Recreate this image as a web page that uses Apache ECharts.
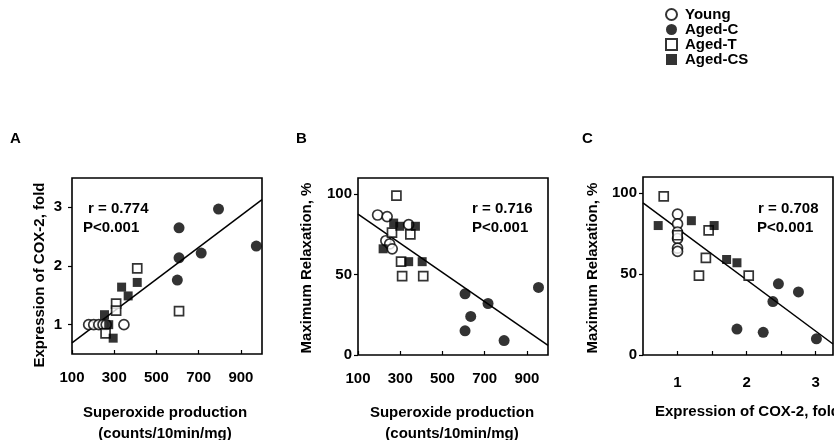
<!DOCTYPE html>
<html>
<head>
<meta charset="utf-8">
<script src="https://cdn.jsdelivr.net/npm/echarts@6/dist/echarts.min.js"></script>
<style>
  html, body { margin: 0; padding: 0; background: #fff; }
  #main { width: 834px; height: 440px; }
</style>
</head>
<body>
<div id="main"></div>
<script>
// group names
var groups = ['Young', 'Aged-C', 'Aged-T', 'Aged-CS'];

// A: superoxide vs COX-2 expression
var youngA = [[179, 1.0], [203, 1.0], [227, 1.0], [247, 1.0], [262, 1.0], [346, 1.0]];
var agedCA = [[607, 2.65], [607, 2.14], [599, 1.76], [712, 2.22], [794, 2.97], [973, 2.34]];
var agedTA = [[259, 0.85], [309, 1.36], [309, 1.24], [409, 1.96], [607, 1.23]];
var agedCSA = [[274, 1.0], [295, 0.77], [254, 1.17], [335, 1.64], [366, 1.49], [409, 1.72]];
var fitA = [[100, 0.69], [1000, 3.13]];

// B: superoxide vs maximum relaxation
var youngB = [[193, 87], [238, 86], [340, 81], [232, 71], [250, 69], [262, 66]];
var agedCB = [[607, 38], [634, 24], [607, 15], [716, 32], [792, 9], [955, 42]];
var agedTB = [[282, 99], [348, 75], [261, 76], [304, 58], [309, 49], [409, 49]];
var agedCSB = [[269, 82], [298, 80], [372, 80], [219, 66], [340, 58], [404, 58]];
var fitB = [[100, 87.5], [1000, 6]];

// C: COX-2 expression vs maximum relaxation
var youngC = [[1, 87], [1, 81], [1, 76], [1, 72], [1, 66], [1, 64]];
var agedCC = [[1.86, 16], [2.24, 14], [2.38, 33], [2.46, 44], [2.75, 39], [3.01, 10]];
var agedTC = [[0.80, 98], [1.45, 77], [1.41, 60], [1.31, 49], [2.03, 49], [1.0, 74]];
var agedCSC = [[0.72, 80], [1.20, 83], [1.53, 80], [1.71, 59], [1.86, 57]];
var fitC = [[0.5, 94], [3.25, 6.8]];

// ticks
var superTicks = [100, 300, 500, 700, 900];
var coxTicksA = [1, 2, 3];
var relaxTicks = [0, 50, 100];
var coxTicksC = [1, 1.5, 2, 2.5, 3];
var coxLabelsC = [1, 2, 3];

var stats = [['r = 0.774', 'P<0.001'], ['r = 0.716', 'P<0.001'], ['r = 0.708', 'P<0.001']];

var FONT = "'Liberation Sans', Arial, sans-serif";

var styles = {
    'Young':   {symbol: 'circle', symbolSize: 10, itemStyle: {color: '#fff', borderColor: '#000', borderWidth: 1.7}},
    'Aged-C':  {symbol: 'circle', symbolSize: 11, itemStyle: {color: '#000', borderColor: '#000', borderWidth: 0}},
    'Aged-T':  {symbol: 'rect',   symbolSize: 9,  itemStyle: {color: '#fff', borderColor: '#000', borderWidth: 1.7}},
    'Aged-CS': {symbol: 'rect',   symbolSize: 9,  itemStyle: {color: '#000', borderColor: '#000', borderWidth: 0}}
};

function scatter(name, data, idx) {
    var s = styles[name];
    return {
        name: name, type: 'scatter', data: data,
        xAxisIndex: idx, yAxisIndex: idx,
        symbol: s.symbol, symbolSize: s.symbolSize, itemStyle: s.itemStyle,
        z: 3
    };
}

function fitLine(data, idx) {
    return {
        type: 'line', data: data, xAxisIndex: idx, yAxisIndex: idx,
        showSymbol: false, symbol: 'none', silent: true,
        lineStyle: {color: '#000', width: 1.5}, z: 2
    };
}

var tickLabel = {color: '#000', fontFamily: FONT, fontWeight: 'bold', fontSize: 15};

function xAxis(idx, min, max, ticks, labels, margin) {
    return {
        type: 'value', gridIndex: idx, min: min, max: max,
        splitLine: {show: false}, axisLine: {show: false},
        axisTick: {show: true, inside: true, length: 4, customValues: ticks, lineStyle: {color: '#000', width: 1.2}},
        axisLabel: Object.assign({customValues: labels, margin: margin}, tickLabel)
    };
}
function yAxis(idx, min, max, ticks, margin) {
    return {
        type: 'value', gridIndex: idx, min: min, max: max,
        splitLine: {show: false}, axisLine: {show: false},
        axisTick: {show: true, inside: false, length: 4, customValues: ticks, lineStyle: {color: '#000', width: 1.2}},
        axisLabel: Object.assign({customValues: ticks, margin: margin}, tickLabel)
    };
}

var gridBase = {show: true, borderColor: '#000', borderWidth: 1.6, backgroundColor: 'transparent'};

function txt(x, y, text, opts) {
    var st = Object.assign({text: text, fill: '#000', font: 'bold 15px ' + FONT}, opts && opts.style);
    var el = {type: 'text', x: x, y: y, style: st, z: 10};
    if (opts && opts.rotation) el.rotation = opts.rotation;
    return el;
}

var option = {
    animation: false,
    backgroundColor: '#fff',
    legend: {
        orient: 'vertical', left: 660, top: 2,
        itemWidth: 11, itemHeight: 11, itemGap: 0,
        data: groups,
        textStyle: {color: '#000', fontFamily: FONT, fontWeight: 'bold', fontSize: 15, lineHeight: 13, padding: [0, 0, 0, 3]}
    },
    grid: [
        Object.assign({left: 72, top: 178, width: 190, height: 176}, gridBase),
        Object.assign({left: 358, top: 178, width: 190, height: 177}, gridBase),
        Object.assign({left: 643, top: 177, width: 190, height: 178}, gridBase)
    ],
    xAxis: [
        xAxis(0, 100, 1000, superTicks, superTicks, 16),
        xAxis(1, 100, 1000, superTicks, superTicks, 16),
        xAxis(2, 0.5, 3.25, coxTicksC, coxLabelsC, 20)
    ],
    yAxis: [
        yAxis(0, 0.5, 3.5, coxTicksA, 10),
        yAxis(1, 0, 110, relaxTicks, 6),
        yAxis(2, 0, 110, relaxTicks, 6)
    ],
    series: [
        fitLine(fitA, 0),
        scatter('Young', youngA, 0), scatter('Aged-C', agedCA, 0),
        scatter('Aged-T', agedTA, 0), scatter('Aged-CS', agedCSA, 0),
        fitLine(fitB, 1),
        scatter('Young', youngB, 1), scatter('Aged-C', agedCB, 1),
        scatter('Aged-T', agedTB, 1), scatter('Aged-CS', agedCSB, 1),
        fitLine(fitC, 2),
        scatter('Young', youngC, 2), scatter('Aged-C', agedCC, 2),
        scatter('Aged-T', agedTC, 2), scatter('Aged-CS', agedCSC, 2)
    ],
    graphic: [
        // panel letters
        txt(10, 131, 'A'), txt(296, 131, 'B'), txt(582, 131, 'C'),
        // correlation stats
        txt(88, 201, stats[0][0]), txt(83, 220, stats[0][1]),
        txt(472, 201, stats[1][0]), txt(472, 220, stats[1][1]),
        txt(758, 201, stats[2][0]), txt(757, 220, stats[2][1]),
        // x axis titles
        txt(165, 402, 'Superoxide production\n(counts/10min/mg)', {style: {textAlign: 'center', lineHeight: 21}}),
        txt(452, 402, 'Superoxide production\n(counts/10min/mg)', {style: {textAlign: 'center', lineHeight: 21}}),
        txt(655, 404, 'Expression of COX-2, fold'),
        // y axis titles
        txt(40, 275, 'Expression of COX-2, fold', {rotation: Math.PI / 2, style: {textAlign: 'center', textVerticalAlign: 'middle'}}),
        txt(307, 268, 'Maximum Relaxation, %', {rotation: Math.PI / 2, style: {textAlign: 'center', textVerticalAlign: 'middle'}}),
        txt(593, 268, 'Maximum Relaxation, %', {rotation: Math.PI / 2, style: {textAlign: 'center', textVerticalAlign: 'middle'}})
    ]
};

var myChart = echarts.init(document.getElementById('main'));
myChart.setOption(option);
</script>
</body>
</html>
